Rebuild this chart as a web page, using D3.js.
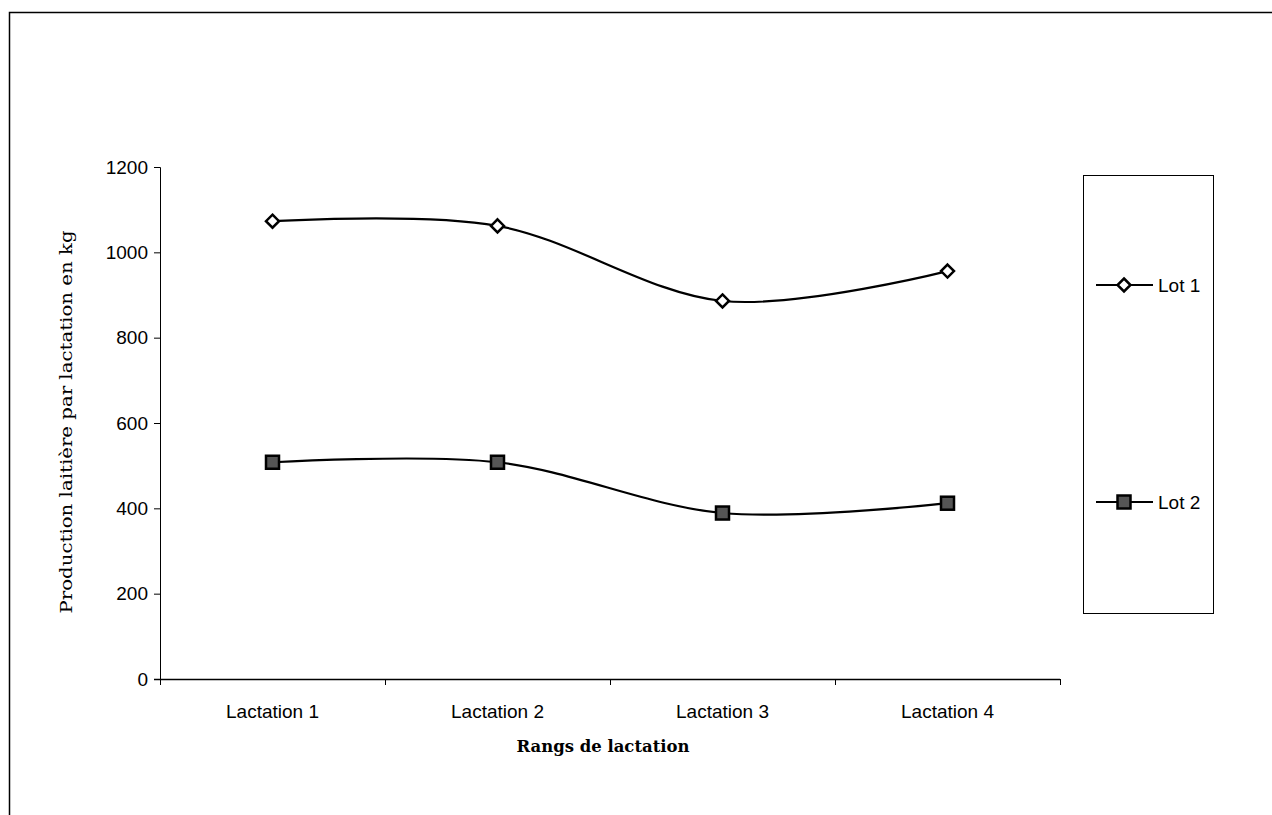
<!DOCTYPE html>
<html><head><meta charset="utf-8">
<script src="https://cdn.jsdelivr.net/npm/d3@7/dist/d3.min.js"></script>
<style>body{margin:0;background:#fff}svg{display:block}</style>
</head><body>
<svg id="c" width="1272" height="815"></svg>
<script>
const categories = ["Lactation 1","Lactation 2","Lactation 3","Lactation 4"];
const seriesNames = ["Lot 1","Lot 2"];
const lot1 = [1073, 1062, 886, 956];
const lot2 = [508, 508, 389, 412];
const yTicks = [0,200,400,600,800,1000,1200];

const svg = d3.select("#c");
svg.append("path").attr("d","M9.5,815 V12.5 H1272").attr("fill","none").attr("stroke","#000").attr("stroke-width",1.5);

const x = d3.scaleBand().domain(categories).range([160,1060]);
const y = d3.scaleLinear().domain([0,1200]).range([679,167]);
const sans = "Liberation Sans, Arial, sans-serif";

const ya = svg.append("g").attr("transform","translate(160,0)")
  .call(d3.axisLeft(y).tickValues(yTicks).tickSize(6).tickPadding(6).tickFormat(d3.format("d")));
ya.select(".domain").attr("d","M-6,167.5H0.5V679.5").attr("stroke","#000");
ya.selectAll("text").attr("font-family",sans).attr("font-size",19).attr("fill","#000");

const xa = svg.append("g").attr("transform","translate(0,679)");
xa.append("line").attr("x1",154).attr("x2",1060).attr("y1",0.5).attr("y2",0.5).attr("stroke","#000").attr("stroke-width",1.3);
const bounds = categories.map(c=>x(c)).concat([x.range()[1]]);
xa.selectAll("line.tk").data(bounds).enter().append("line").attr("class","tk")
  .attr("x1",d=>d+0.5).attr("x2",d=>d+0.5).attr("y1",0).attr("y2",6).attr("stroke","#000");
xa.selectAll("text").data(categories).enter().append("text")
  .attr("x",d=>x(d)+x.bandwidth()/2).attr("y",39).attr("text-anchor","middle")
  .attr("font-family",sans).attr("font-size",19).text(d=>d);

svg.append("text").attr("transform","translate(72,422) rotate(-90)").attr("text-anchor","middle")
  .attr("font-family","DejaVu Serif, serif").attr("font-size",16)
  .attr("textLength",383).attr("lengthAdjust","spacingAndGlyphs").text("Production laitière par lactation en kg");
svg.append("text").attr("x",603).attr("y",752).attr("text-anchor","middle")
  .attr("font-family","DejaVu Serif, serif").attr("font-weight","bold").attr("font-size",16)
  .attr("textLength",173).attr("lengthAdjust","spacingAndGlyphs").text("Rangs de lactation");

const cx = c => x(c)+x.bandwidth()/2;
const line = d3.line().x((d,i)=>cx(categories[i])).y(d=>y(d)).curve(d3.curveCardinal.tension(0));
[lot1, lot2].forEach(s=>{
  svg.append("path").attr("d",line(s)).attr("fill","none").attr("stroke","#000").attr("stroke-width",2.2);
});
function diamond(g,px,py){
  g.append("path").attr("d",`M${px},${py-6.5}L${px+6.5},${py}L${px},${py+6.5}L${px-6.5},${py}Z`)
   .attr("fill","#fff").attr("stroke","#000").attr("stroke-width",2.5);
}
function square(g,px,py){
  g.append("rect").attr("x",px-6.5).attr("y",py-6.5).attr("width",13).attr("height",13)
   .attr("fill","#555").attr("stroke","#000").attr("stroke-width",2.5);
}
lot1.forEach((v,i)=>diamond(svg,cx(categories[i]),y(v)));
lot2.forEach((v,i)=>square(svg,cx(categories[i]),y(v)));

svg.append("rect").attr("x",1083.5).attr("y",175.5).attr("width",130).attr("height",438)
  .attr("fill","#fff").attr("stroke","#000").attr("stroke-width",1);
const legY = [285, 502];
seriesNames.forEach((n,i)=>{
  svg.append("line").attr("x1",1096).attr("x2",1153).attr("y1",legY[i]).attr("y2",legY[i]).attr("stroke","#000").attr("stroke-width",2.2);
  if(i===0) diamond(svg,1124,legY[i]); else square(svg,1124,legY[i]);
  svg.append("text").attr("x",1158).attr("y",legY[i]+7).attr("font-family",sans).attr("font-size",19).text(n);
});
</script>
</body></html>
